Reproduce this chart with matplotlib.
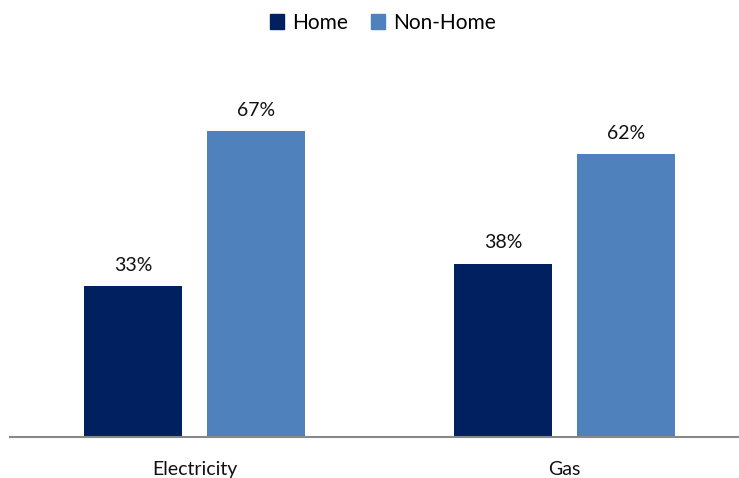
import matplotlib
matplotlib.use("Agg")
import matplotlib.pyplot as plt
import numpy as np
from matplotlib.patches import Patch

categories = ["Electricity", "Gas"]
home = [33, 38]
non_home = [67, 62]
series_names = ["Home", "Non-Home"]
colors = ["#002060", "#4F81BD"]

plt.rcParams['font.family'] = ['Lato', 'DejaVu Sans']

W, H = 739, 478
fig = plt.figure(figsize=(W / 100, H / 100), dpi=100)
ax = fig.add_axes([10 / W, (H - 437) / H, 729 / W, 365 / H])

x = np.arange(len(categories))
bw = 98 / 370
off = 61.5 / 370
b1 = ax.bar(x - off, home, width=bw, color=colors[0])
b2 = ax.bar(x + off, non_home, width=bw, color=colors[1])

for bars, vals in ((b1, home), (b2, non_home)):
    for rect, v in zip(bars, vals):
        ax.annotate(f"{v}%", (rect.get_x() + rect.get_width() / 2, v),
                    xytext=(0, 9), textcoords="offset points",
                    ha="center", va="bottom", fontsize=14, color="#111111")

ax.set_xlim(-184.5 / 370, 1 + 174.5 / 370)
ax.set_ylim(0, 80)
ax.set_xticks(x)
ax.set_xticklabels(categories, fontsize=14, color="#111111")
ax.tick_params(axis="x", length=0, pad=17)
ax.set_yticks([])
for s in ("top", "right", "left"):
    ax.spines[s].set_visible(False)
ax.spines["bottom"].set_color("#888888")
ax.spines["bottom"].set_linewidth(1.5)

handles = [Patch(color=c, label=n) for c, n in zip(colors, series_names)]
fig.legend(handles=handles, loc="upper center", bbox_to_anchor=(383 / W, 1.012),
           ncol=2, frameon=False, fontsize=15, handlelength=0.65, handleheight=0.7,
           handletextpad=0.4, columnspacing=1.1)

fig.savefig("out.png", dpi=100)
